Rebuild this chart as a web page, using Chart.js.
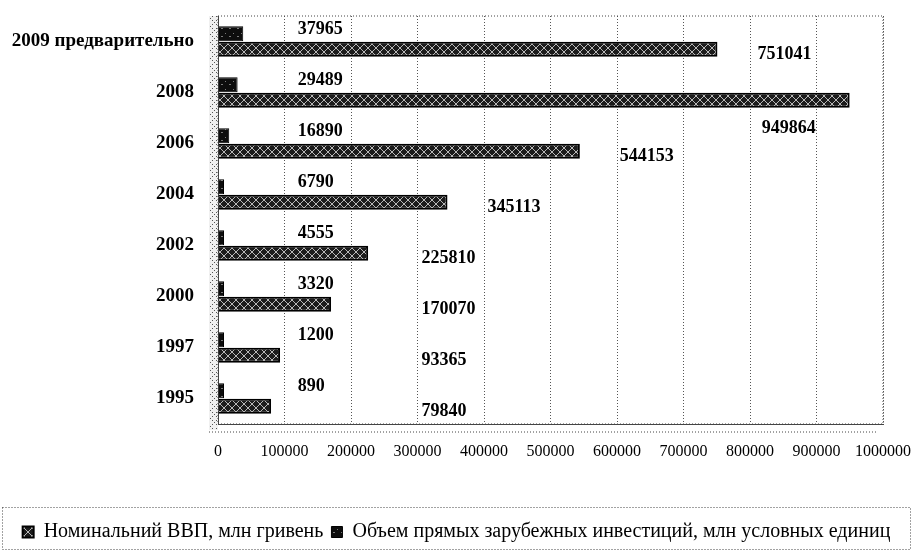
<!DOCTYPE html>
<html>
<head>
<meta charset="utf-8">
<script src="https://cdn.jsdelivr.net/npm/chart.js@4/dist/chart.umd.min.js"></script>
<style>
  html, body { margin: 0; padding: 0; background: #fff; }
</style>
</head>
<body>
<canvas id="chart" width="913" height="552"></canvas>
<script>
const years = ["2009 предварительно", "2008", "2006", "2004", "2002", "2000", "1997", "1995"];
const gdpValues = [751041, 949864, 544153, 345113, 225810, 170070, 93365, 79840];
const fdiValues = [37965, 29489, 16890, 6790, 4555, 3320, 1200, 890];
const gdpLabel = "Номинальний ВВП, млн гривень";
const fdiLabel = "Объем прямых зарубежных инвестиций, млн условных единиц";

const serif = "'Liberation Serif', 'DejaVu Serif', serif";

function makePattern(base, ink, draw) {
    const c = document.createElement("canvas");
    c.width = 8;
    c.height = 8;
    const g = c.getContext("2d");
    g.fillStyle = base;
    g.fillRect(0, 0, 8, 8);
    g.strokeStyle = ink;
    g.fillStyle = ink;
    draw(g);
    return g.createPattern(c, "repeat");
}

// light crosses on black for the GDP bars, dark speckle for the FDI bars
const gdpFill = makePattern("#1c1c1c", "#b8b8b8", g => {
    g.lineWidth = 1;
    g.beginPath();
    g.moveTo(0, 0); g.lineTo(8, 8);
    g.moveTo(8, 0); g.lineTo(0, 8);
    g.stroke();
});
const fdiFill = makePattern("#0d0d0d", "#7a7a7a", g => {
    g.fillRect(1, 1, 1, 1);
    g.fillRect(5, 4, 2, 1);
});
const wallFill = makePattern("#f0f0f0", "#555", g => {
    g.fillRect(0, 0, 1, 1);
    g.fillRect(2, 2, 1, 1);
    g.fillRect(4, 4, 1, 1);
    g.fillRect(6, 6, 1, 1);
    g.fillRect(4, 0, 1, 1);
    g.fillRect(0, 4, 1, 1);
});

const frame = {
    id: "frame",
    beforeDatasetsDraw(chart) {
        const { ctx, chartArea: a } = chart;
        ctx.save();
        ctx.fillStyle = wallFill;
        ctx.fillRect(a.left - 9, a.top, 9, a.bottom - a.top + 6);
        ctx.strokeStyle = "#444";
        ctx.lineWidth = 1;
        ctx.setLineDash([1, 2]);
        ctx.strokeRect(a.left, a.top, a.right - a.left, a.bottom - a.top);
        ctx.beginPath();
        ctx.moveTo(a.left - 9, a.bottom + 8);
        ctx.lineTo(a.right - 6, a.bottom + 8);
        ctx.stroke();
        const lg = chart.legend;
        ctx.strokeRect(2.5, lg.top - 6.5, 908, lg.height + 4);
        ctx.restore();
    },
    afterDatasetsDraw(chart) {
        const { ctx, chartArea: a } = chart;
        const x = chart.scales.x;
        ctx.save();
        ctx.font = "bold 18px " + serif;
        ctx.fillStyle = "#000";
        ctx.textBaseline = "middle";

        chart.getDatasetMeta(0).data.forEach((bar, i) => {
            ctx.textAlign = "left";
            ctx.fillText(fdiValues[i], x.getPixelForValue(120000), bar.y - 5);
        });

        chart.getDatasetMeta(1).data.forEach((bar, i) => {
            const text = String(gdpValues[i]);
            const w = ctx.measureText(text).width;
            const tx = Math.max(bar.x + 40, x.getPixelForValue(300000) + 4);
            if (tx + w > a.right) {
                ctx.textAlign = "right";
                ctx.fillText(text, bar.x - 34, bar.y + 28);
            } else {
                ctx.textAlign = "left";
                ctx.fillText(text, tx, bar.y + 5);
            }
        });
        ctx.restore();
    }
};

new Chart(document.getElementById("chart"), {
    type: "bar",
    data: {
        labels: years,
        datasets: [{
            label: fdiLabel,
            data: fdiValues,
            backgroundColor: fdiFill,
            borderColor: "#000",
            borderWidth: 1,
            minBarLength: 6
        }, {
            label: gdpLabel,
            data: gdpValues,
            backgroundColor: gdpFill,
            borderColor: "#000",
            borderWidth: 2
        }]
    },
    options: {
        indexAxis: "y",
        responsive: false,
        animation: false,
        devicePixelRatio: 1,
        categoryPercentage: 0.6,
        barPercentage: 0.98,
        layout: {
            padding: { top: 16, right: 0, left: 0, bottom: 0 }
        },
        plugins: {
            legend: {
                position: "bottom",
                reverse: true,
                labels: {
                    color: "#000",
                    boxWidth: 11,
                    boxHeight: 11,
                    padding: 8,
                    font: { family: serif, size: 20 }
                }
            },
            tooltip: { enabled: false }
        },
        scales: {
            x: {
                min: 0,
                max: 1000000,
                ticks: {
                    stepSize: 100000,
                    autoSkip: false,
                    maxRotation: 0,
                    padding: 18,
                    color: "#000",
                    font: { family: serif, size: 16 },
                    callback: v => String(v)
                },
                grid: {
                    color: "#555",
                    drawTicks: false
                },
                border: { dash: [1, 2], color: "#444" },
                afterFit: s => {
                    s.height = 90;
                    s.paddingLeft = 0;
                    s.paddingRight = 30;
                }
            },
            y: {
                ticks: {
                    padding: 16,
                    color: "#000",
                    font: { family: serif, size: 19, weight: "bold" }
                },
                grid: { display: false },
                border: { color: "#444", dash: [1, 2] },
                afterFit: s => {
                    s.width = 218;
                    s.paddingTop = 0;
                    s.paddingBottom = 0;
                }
            }
        }
    },
    plugins: [frame]
});
</script>
</body>
</html>
